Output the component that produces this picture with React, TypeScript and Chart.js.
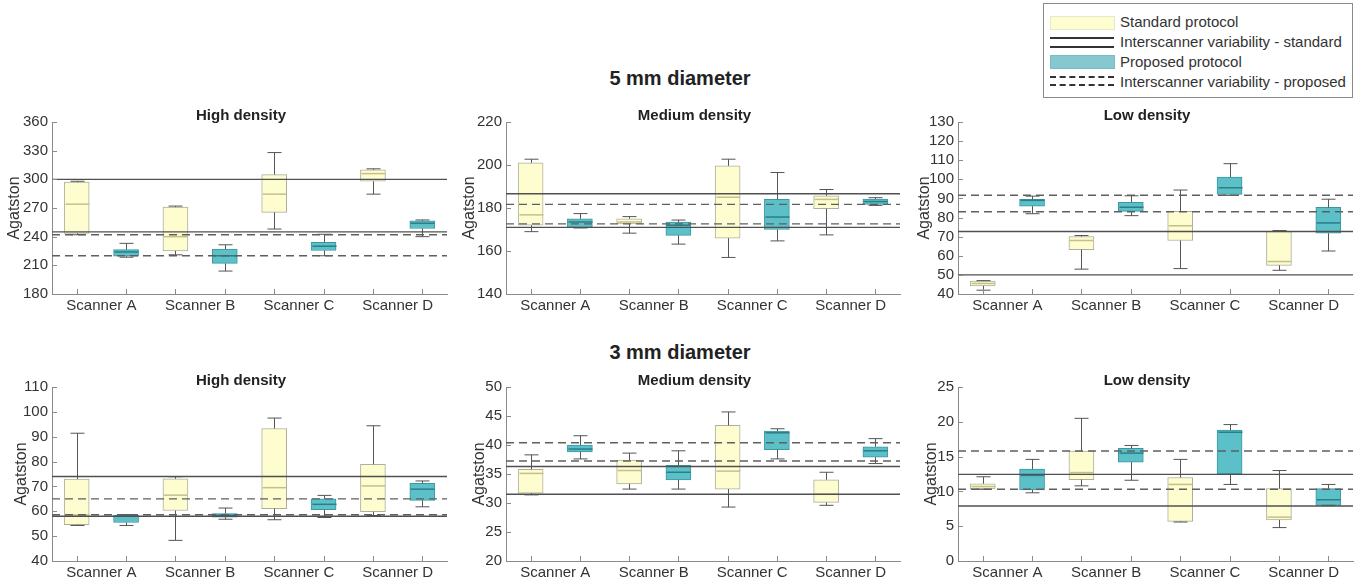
import React, { useEffect, useRef } from "react";
import { Chart, registerables } from "chart.js";

Chart.register(...registerables);

// ---------- DATA ----------
const scanners = ["Scanner A", "Scanner B", "Scanner C", "Scanner D"];
const standardPositions = [1, 3, 5, 7];
const proposedPositions = [2, 4, 6, 8];

// five-number summaries [min, q1, median, q3, max] per scanner
const high5Standard = [[242, 243.5, 274, 297, 298], [221, 225, 240, 271, 272], [248, 265.5, 284.5, 305, 328], [284.5, 298, 306, 310, 311]];
const high5Proposed = [[218.5, 219.5, 224, 226.5, 233], [204, 212, 220, 227, 231.5], [220, 225.5, 230, 234, 242.5], [240, 248.5, 254, 256.5, 257.5]];
const high5StdLines = [300, 245];
const high5PropLines = [242, 220];

const medium5Standard = [[169, 172, 176.8, 201, 202.7], [168.3, 172.6, 173.5, 175, 176], [157, 166, 185, 199.6, 202.7], [167.5, 179.7, 184, 185.7, 188.6]];
const medium5Proposed = [[170.7, 171, 173.5, 175, 177.4], [163.2, 167.3, 172, 173.4, 174.4], [164.7, 170, 175.8, 184, 196.5], [181.2, 181.7, 183, 184.2, 184.8]];
const medium5StdLines = [186.6, 171];
const medium5PropLines = [181.7, 172.6];

const low5Standard = [[42, 44.2, 45.5, 46.8, 47], [53, 63.2, 68, 70, 70.6], [53.3, 68, 75.7, 83.3, 94.4], [52.4, 55, 57, 72.7, 73.2]];
const low5Proposed = [[82, 86, 89, 89.5, 91.2], [81, 83.2, 85.4, 88, 91.4], [91.6, 92.1, 95.6, 101.2, 108.2], [62.5, 71.8, 77.2, 85.3, 89.6]];
const low5StdLines = [72.7, 50];
const low5PropLines = [91.7, 83];

const high3Standard = [[54.3, 54.6, 58.5, 73, 91.4], [48.3, 60.3, 66.5, 73.1, 73.9], [56.6, 61.1, 69.5, 93.3, 97.5], [58.3, 59.8, 70.2, 78.9, 94.4]];
const high3Proposed = [[54.3, 55.5, 58, 58.4, 58.7], [56.8, 57.6, 58.4, 59.1, 61.3], [57.5, 60.6, 62.8, 65, 66.4], [61.8, 64.4, 68.9, 71.2, 72.2]];
const high3StdLines = [74, 58];
const high3PropLines = [65, 58.6];

const medium3Standard = [[31.4, 31.7, 35.1, 35.8, 38.3], [32.4, 33.3, 35.6, 37.4, 38.6], [29.3, 32.4, 35.5, 43.4, 45.7], [29.6, 30.1, 31.5, 34, 35.3]];
const medium3Proposed = [[37.6, 38.8, 39.3, 40, 41.6], [32.4, 34, 35.3, 36.5, 39], [37.6, 39.2, 42.1, 42.4, 42.8], [36.8, 37.9, 39, 39.7, 41.1]];
const medium3StdLines = [36.3, 31.5];
const medium3PropLines = [40.4, 37.25];

const low3Standard = [[10.3, 10.35, 10.7, 11.1, 12.1], [10.8, 11.7, 12.7, 15.8, 20.5], [5.6, 5.7, 11, 12, 14.6], [4.8, 5.9, 6.3, 10.4, 13]];
const low3Proposed = [[9.8, 10.2, 12.3, 13.2, 14.6], [11.6, 14.2, 15.5, 16.2, 16.6], [11, 12.5, 18.5, 18.8, 19.6], [8, 8, 8.8, 10.4, 11]];
const low3StdLines = [12.45, 7.9];
const low3PropLines = [15.8, 10.3];

const yTicks5High = [180, 360, 30];
const yTicks5Medium = [140, 220, 20];
const yTicks5Low = [40, 130, 10];
const yTicks3High = [40, 110, 10];
const yTicks3Medium = [20, 50, 5];
const yTicks3Low = [0, 25, 5];

// ---------- STYLE ----------
const FONT = "'Liberation Sans', Arial, Helvetica, sans-serif";
const STD_FILL = "#fdfdcf";
const STD_EDGE = "#aeae9e";
const STD_MED = "#c5bf8c";
const PROP_FILL = "#5cc0c8";
const PROP_EDGE = "#3a98a2";
const PROP_MED = "#2b7d86";
const WHISKER = "#555555";
const AXIS = "#8a8a8a";
const TEXT = "#333333";

type Panel = {
  title: string;
  std: number[][];
  prop: number[][];
  stdLines: number[];
  propLines: number[];
  yRange: number[];
  left: number;
  top: number;
  right: number;
  bottom: number;
  yTitleOffset: number;
};

const panels: Panel[] = [
  { title: "High density", std: high5Standard, prop: high5Proposed, stdLines: high5StdLines, propLines: high5PropLines, yRange: yTicks5High, left: 52, top: 122, right: 447, bottom: 294, yTitleOffset: 37 },
  { title: "Medium density", std: medium5Standard, prop: medium5Proposed, stdLines: medium5StdLines, propLines: medium5PropLines, yRange: yTicks5Medium, left: 506, top: 122, right: 900, bottom: 294, yTitleOffset: 36 },
  { title: "Low density", std: low5Standard, prop: low5Proposed, stdLines: low5StdLines, propLines: low5PropLines, yRange: yTicks5Low, left: 958, top: 122, right: 1353, bottom: 294, yTitleOffset: 33 },
  { title: "High density", std: high3Standard, prop: high3Proposed, stdLines: high3StdLines, propLines: high3PropLines, yRange: yTicks3High, left: 52, top: 387, right: 447, bottom: 561, yTitleOffset: 30 },
  { title: "Medium density", std: medium3Standard, prop: medium3Proposed, stdLines: medium3StdLines, propLines: medium3PropLines, yRange: yTicks3Medium, left: 506, top: 387, right: 900, bottom: 561, yTitleOffset: 26 },
  { title: "Low density", std: low3Standard, prop: low3Proposed, stdLines: low3StdLines, propLines: low3PropLines, yRange: yTicks3Low, left: 958, top: 387, right: 1353, bottom: 561, yTitleOffset: 26 },
];

const PAD_TOP = 40;
const Y_W = 52;
const X_H = 26;
const PAD_R = 6;

const boxExtras = {
  id: "boxExtras",
  afterDatasetDraw(chart: any, args: any) {
    const ds = chart.data.datasets[args.index];
    if (!ds.stats) return;
    const { ctx } = chart;
    const xs = chart.scales.x;
    const ys = chart.scales.y;
    ctx.save();
    ds.stats.forEach((s: number[], i: number) => {
      const px = Math.round(xs.getPixelForValue(ds.positions[i])) + 0.5;
      const [mn, q1, md, q3, mx] = s.map((v) => ys.getPixelForValue(v));
      ctx.strokeStyle = WHISKER;
      ctx.lineWidth = 1;
      ctx.beginPath();
      ctx.moveTo(px, q3);
      ctx.lineTo(px, mx);
      ctx.moveTo(px, q1);
      ctx.lineTo(px, mn);
      ctx.moveTo(px - 7, mx);
      ctx.lineTo(px + 7, mx);
      ctx.moveTo(px - 7, mn);
      ctx.lineTo(px + 7, mn);
      ctx.stroke();
      ctx.strokeStyle = ds.medianColor;
      ctx.lineWidth = 1.5;
      ctx.beginPath();
      ctx.moveTo(px - 12, md);
      ctx.lineTo(px + 12, md);
      ctx.stroke();
    });
    ctx.restore();
  },
};

const inwardTicks = {
  id: "inwardTicks",
  afterDraw(chart: any) {
    const { ctx, chartArea } = chart;
    const xs = chart.scales.x;
    const ys = chart.scales.y;
    ctx.save();
    ctx.strokeStyle = AXIS;
    ctx.lineWidth = 1;
    ctx.beginPath();
    ys.ticks.forEach((t: any) => {
      const py = Math.round(ys.getPixelForValue(t.value)) + 0.5;
      ctx.moveTo(chartArea.left, py);
      ctx.lineTo(chartArea.left + 5, py);
    });
    [...standardPositions, ...proposedPositions].forEach((v) => {
      const px = Math.round(xs.getPixelForValue(v)) + 0.5;
      ctx.moveTo(px, chartArea.bottom);
      ctx.lineTo(px, chartArea.bottom - 5);
    });
    ctx.stroke();
    ctx.restore();
  },
};

function BoxPanel({ p }: { p: Panel }) {
  const ref = useRef<HTMLCanvasElement>(null);
  const width = p.right - p.left + Y_W + PAD_R;
  const height = p.bottom - p.top + PAD_TOP + X_H;

  useEffect(() => {
    const labelPositions = standardPositions.map((v, i) => (v + proposedPositions[i]) / 2);
    const lineSet = (vals: number[], dashed: boolean) =>
      vals.map((v) => ({
        type: "line" as const,
        data: [{ x: 0.5, y: v }, { x: 8.5, y: v }],
        borderColor: dashed ? "#5f5f5f" : "#505050",
        borderWidth: 1.4,
        borderDash: dashed ? [8, 5] : [],
        pointRadius: 0,
        order: 0,
      }));
    const subTitle = {
      id: "subTitle",
      afterDraw(chart: any) {
        const { ctx, chartArea } = chart;
        ctx.save();
        ctx.font = `bold 15px ${FONT}`;
        ctx.fillStyle = "#222";
        ctx.textAlign = "center";
        ctx.textBaseline = "alphabetic";
        ctx.fillText(p.title, (chartArea.left + chartArea.right) / 2 - 8.5, chartArea.top - 2);
        ctx.restore();
      },
    };
    const chart = new Chart(ref.current as HTMLCanvasElement, {
      type: "bar",
      data: {
        datasets: [
          {
            type: "bar",
            data: p.std.map((s, i) => ({ x: standardPositions[i], y: [s[1], s[3]] })) as any,
            backgroundColor: STD_FILL,
            borderColor: STD_EDGE,
            borderWidth: 1,
            borderSkipped: false,
            barThickness: 25,
            grouped: false,
            order: 1,
            stats: p.std,
            positions: standardPositions,
            medianColor: STD_MED,
          } as any,
          {
            type: "bar",
            data: p.prop.map((s, i) => ({ x: proposedPositions[i], y: [s[1], s[3]] })) as any,
            backgroundColor: PROP_FILL,
            borderColor: PROP_EDGE,
            borderWidth: 1,
            borderSkipped: false,
            barThickness: 25,
            grouped: false,
            order: 1,
            stats: p.prop,
            positions: proposedPositions,
            medianColor: PROP_MED,
          } as any,
          ...lineSet(p.stdLines, false),
          ...lineSet(p.propLines, true),
        ],
      },
      options: {
        responsive: false,
        animation: false,
        layout: { padding: { top: PAD_TOP, right: PAD_R, left: 0, bottom: 0 } },
        plugins: { legend: { display: false }, tooltip: { enabled: false }, title: { display: false } },
        scales: {
          x: {
            type: "linear",
            offset: false,
            min: 0.5,
            max: 8.5,
            grid: { display: false, drawTicks: false },
            border: { display: true, color: AXIS, width: 1 },
            afterBuildTicks: (axis: any) => {
              axis.ticks = labelPositions.map((v) => ({ value: v }));
            },
            afterFit: (axis: any) => {
              axis.height = X_H;
            },
            ticks: {
              autoSkip: false,
              maxRotation: 0,
              padding: 3,
              color: TEXT,
              font: { size: 15, family: FONT },
              callback: (_v: any, i: number) => scanners[i],
            },
          },
          y: {
            type: "linear",
            min: p.yRange[0],
            max: p.yRange[1],
            grid: { display: false, drawTicks: false },
            border: { display: true, color: AXIS, width: 1 },
            afterFit: (axis: any) => {
              axis.width = Y_W;
            },
            ticks: {
              stepSize: p.yRange[2],
              autoSkip: false,
              padding: 4,
              color: TEXT,
              font: { size: 15, family: FONT },
            },
            title: {
              display: true,
              text: "Agatston",
              color: TEXT,
              font: { size: 16, family: FONT },
              padding: { top: Math.max(0, Y_W - p.yTitleOffset - 9.6), bottom: 0 },
            },
          },
        },
      } as any,
      plugins: [boxExtras, inwardTicks, subTitle],
    });
    return () => chart.destroy();
  }, []);

  return (
    <canvas
      ref={ref}
      width={width}
      height={height}
      style={{ position: "absolute", left: p.left - Y_W, top: p.top - PAD_TOP, width, height }}
    />
  );
}

const legendItems = ["Standard protocol", "Interscanner variability - standard", "Proposed protocol", "Interscanner variability - proposed"];

function Legend() {
  const textStyle = (top: number): React.CSSProperties => ({
    position: "absolute",
    left: 76,
    top,
    fontSize: 15,
    lineHeight: "18px",
    color: TEXT,
    whiteSpace: "nowrap",
  });
  return (
    <div
      style={{
        position: "absolute",
        left: 1043,
        top: 3,
        width: 308,
        height: 93,
        border: "1px solid #8a8a8a",
        background: "#fff",
        fontFamily: FONT,
      }}
    >
      <div style={{ position: "absolute", left: 6, top: 12, width: 63, height: 12, background: STD_FILL, border: `1px solid #e8e8c8` }} />
      <div style={textStyle(9)}>{legendItems[0]}</div>
      <div style={{ position: "absolute", left: 6, top: 33, width: 64, borderTop: "2.5px solid #333" }} />
      <div style={{ position: "absolute", left: 6, top: 42, width: 64, borderTop: "2.5px solid #333" }} />
      <div style={textStyle(29)}>{legendItems[1]}</div>
      <div style={{ position: "absolute", left: 6, top: 51, width: 63, height: 12, background: "#86c8d0", border: "1px solid #7bbcc4" }} />
      <div style={textStyle(49)}>{legendItems[2]}</div>
      <div style={{ position: "absolute", left: 6, top: 72, width: 64, borderTop: "2.5px dashed #333" }} />
      <div style={{ position: "absolute", left: 6, top: 80, width: 64, borderTop: "2.5px dashed #333" }} />
      <div style={textStyle(69)}>{legendItems[3]}</div>
    </div>
  );
}

const sectionTitles = ["5 mm diameter", "3 mm diameter"];

export default function App() {
  const titleStyle = (top: number): React.CSSProperties => ({
    position: "absolute",
    left: 480,
    width: 400,
    top,
    textAlign: "center",
    fontFamily: FONT,
    fontWeight: "bold",
    fontSize: 20,
    lineHeight: "24px",
    color: "#222",
  });
  return (
    <div style={{ position: "absolute", left: 0, top: 0, width: 1360, height: 583, background: "#fff", overflow: "hidden" }}>
      <div style={titleStyle(66)}>{sectionTitles[0]}</div>
      <div style={titleStyle(340)}>{sectionTitles[1]}</div>
      {panels.map((p, i) => (
        <BoxPanel key={i} p={p} />
      ))}
      <Legend />
    </div>
  );
}
